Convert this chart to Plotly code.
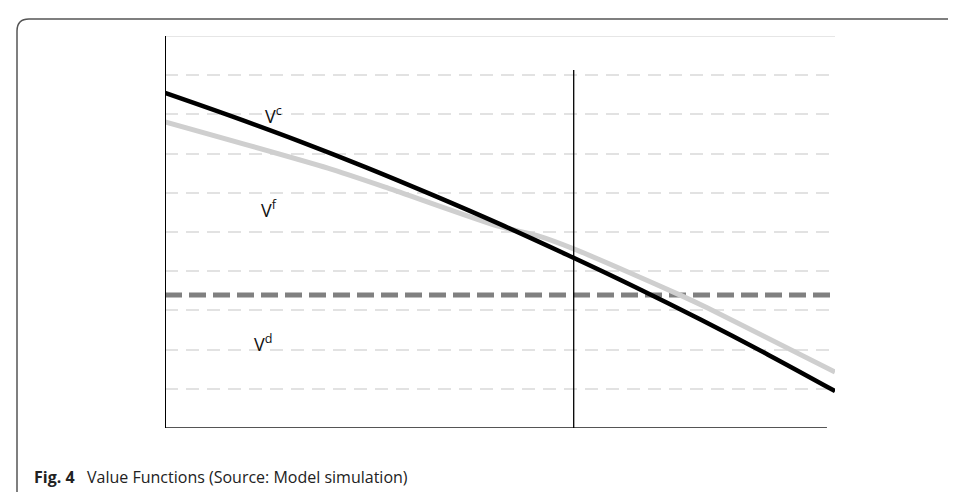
import plotly.graph_objects as go

# x in 0..100 (B* at ~61), y in 0..10 grid units
b_vals = [0, 10, 20, 30, 40, 50, 60, 70, 80, 90, 100]
v_c = [8.55, 7.95, 7.32, 6.65, 5.94, 5.20, 4.42, 3.61, 2.76, 1.87, 0.94]

b_vals_f = [0, 24.3, 33.3, 49.7, 55.7, 61.0, 69.1, 76.9, 81.0, 100]
v_f = [7.81, 6.63, 6.12, 5.15, 4.90, 4.57, 3.98, 3.39, 3.06, 1.43]

v_d = 3.39
b_star = 61.0
b_star_top = 9.13

W, H = 956, 492
L, R, T, B = 157, 129, 28, 72
pw, ph = W - L - R, H - T - B


def px(x):
    return (x - L) / pw


def py(y):
    return (H - B - y) / ph


fig = go.Figure()

fig.add_trace(go.Scatter(
    x=[0, 100], y=[v_d, v_d], mode='lines',
    line=dict(color='#808080', width=5, dash='17px,7px'),
    hoverinfo='skip'
))
fig.add_trace(go.Scatter(
    x=b_vals_f, y=v_f, mode='lines', line_shape='spline',
    line=dict(color='#cfcfcf', width=5, smoothing=0.6),
    hoverinfo='skip'
))
fig.add_trace(go.Scatter(
    x=b_vals, y=v_c, mode='lines', line_shape='spline',
    line=dict(color='#000000', width=4.5),
    hoverinfo='skip'
))

shapes = [
    dict(type='line', xref='x', yref='y', x0=0, x1=100, y0=10, y1=10,
         line=dict(color='#e6e6e6', width=2), layer='below'),
    dict(type='line', xref='x', yref='y', x0=0, x1=98.8, y0=0, y1=0,
         line=dict(color='#555555', width=2)),
    dict(type='line', xref='x', yref='y', x0=0, x1=0, y0=0, y1=10,
         line=dict(color='#000000', width=2)),
    dict(type='line', xref='x', yref='y', x0=b_star, x1=b_star, y0=0, y1=b_star_top,
         line=dict(color='#000000', width=1.3)),
    # figure frame with rounded top-left corner
    dict(type='path', xref='paper', yref='paper',
         path=(f'M {px(9)} {py(500)} L {px(9)} {py(23)} '
               f'Q {px(9)} {py(11)} {px(21)} {py(11)} L {px(970)} {py(11)}'),
         line=dict(color='#555555', width=1.5)),
]

font = 'Open Sans, Noto Sans, sans-serif'
labels = [
    (16.2, 7.98, 'V<sup>c</sup>'),
    (15.5, 5.58, 'V<sup>f</sup>'),
    (14.6, 2.16, 'V<sup>d</sup>'),
]
annotations = [
    dict(x=x, y=y, xref='x', yref='y', text=t, showarrow=False,
         font=dict(family=font, size=18, color='#111111'))
    for x, y, t in labels
]
annotations.append(dict(
    x=62.4, y=-0.6, xref='x', yref='y', text='B*', showarrow=False,
    font=dict(family=font, size=15, color='#111111')))
annotations.append(dict(
    x=px(24), y=py(469), xref='paper', yref='paper', xanchor='left', yanchor='middle',
    text='<b>Fig. 4</b>   Value Functions (Source: Model simulation)', showarrow=False,
    font=dict(family=font, size=16, color='#222222')))

fig.update_layout(
    width=W, height=H,
    margin=dict(l=L, r=R, t=T, b=B),
    plot_bgcolor='white', paper_bgcolor='white',
    showlegend=False,
    shapes=shapes,
    annotations=annotations,
    xaxis=dict(range=[0, 100], showgrid=False, zeroline=False, showticklabels=False,
               showline=False, fixedrange=True),
    yaxis=dict(range=[0, 10], tickvals=list(range(1, 10)), showgrid=True,
               gridcolor='#e2e2e2', gridwidth=2, griddash='13px,8px',
               zeroline=False, showticklabels=False, showline=False, fixedrange=True),
)

fig.write_html("out.html")
